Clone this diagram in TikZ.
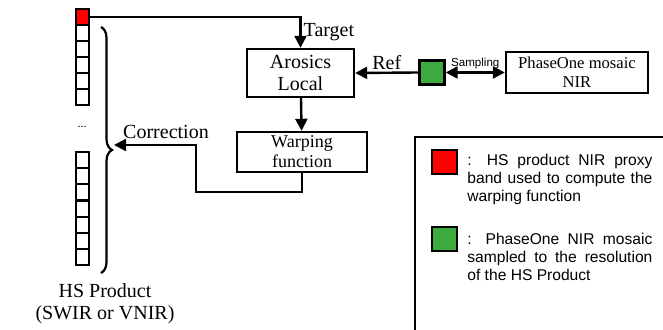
\documentclass[tikz,border=0pt]{standalone}
\usepackage{fontspec}
\setmainfont{Liberation Serif}
\setsansfont{Liberation Sans}
\usepackage{tikz}
\usetikzlibrary{arrows.meta,decorations.pathreplacing}
\definecolor{bandred}{RGB}{255,0,0}
\definecolor{mosaicgreen}{RGB}{61,170,61}

\begin{document}
\begin{tikzpicture}[x=0.5pt,y=-0.5pt,
	box/.style={draw, line width=1.2pt, align=center, inner sep=0pt},
	cell/.style={draw, line width=1pt, fill=white, minimum width=6.5pt, minimum height=8pt, inner sep=0pt},
	swatch/.style={draw, line width=1.2pt, minimum width=12.5pt, minimum height=12pt, inner sep=0pt},
	link/.style={line width=1.2pt, -{Triangle[length=6pt,width=6pt]}},
	lbl/.style={inner sep=1pt, font=\fontsize{10}{11}\selectfont},
	legtext/.style={anchor=west, inner sep=0pt, text width=92.5pt, align=justify, font=\sffamily\fontsize{7.8}{9}\selectfont}]
		\useasboundingbox (0,0) rectangle (663,330);
		\node[cell, fill=bandred] (red) at (82.5,17) {};
		\foreach \i in {1,...,5} \node[cell] (top\i) at (82.5,17+16*\i) {};
		\node[font=\fontsize{6}{6}\selectfont] (dots) at (82,127) {...};
		\foreach \i in {0,...,6} \node[cell] (bot\i) at (82,160+16.2*\i) {};
		\draw[line width=1.1pt, decorate, decoration={brace, amplitude=5.5pt}] (101,27) -- (101,273);
		\coordinate (tip) at (114,145);
		\node[lbl, align=center] (hs) at (105,304) {HS Product\\(SWIR or VNIR)};
		\node[box, minimum width=53.5pt, minimum height=24pt, font=\fontsize{10}{11}\selectfont] (aro) at (300.5,73) {Arosics\\Local};
		\node[box, minimum width=65pt, minimum height=20pt, font=\fontsize{9}{10}\selectfont] (warp) at (302,152) {Warping\\function};
		\node[swatch, fill=mosaicgreen] (gsq) at (432,72.5) {};
		\node[box, minimum width=71pt, minimum height=20.5pt, font=\fontsize{8.3}{9.5}\selectfont] (phase) at (577,72.5) {PhaseOne mosaic\\NIR};
		\draw[link] (red.east) -| (aro.north) node[lbl, pos=0.75, right]{Target};
		\draw[link] (aro) -- (warp);
		\draw[link] (gsq.west) -- (aro.east) node[lbl, midway, above]{Ref};
		\draw[line width=1.2pt, {Triangle[length=6pt,width=6pt]}-{Triangle[length=6pt,width=6pt]}] (gsq.east) -- (phase.west) node[midway, above, inner sep=1pt, font=\sffamily\fontsize{5.8}{6}\selectfont]{Sampling};
		\draw[link] (warp.south) |- (196,192) |- (tip);
		\node[lbl] (corr) at (166,132) {Correction};
		\draw[line width=1.2pt] (663,137) -- (415,137) -- (415,330);
		\node[swatch, fill=bandred] (redkey) at (444.5,162) {};
		\node[legtext] (redtext) at (467,179) {: HS product NIR proxy band used to compute the warping function};
		\node[swatch, fill=mosaicgreen] (greenkey) at (444.5,239) {};
		\node[legtext] (greentext) at (467,257) {: PhaseOne NIR mosaic sampled to the resolution of the HS Product};
	\end{tikzpicture}
\end{document}
